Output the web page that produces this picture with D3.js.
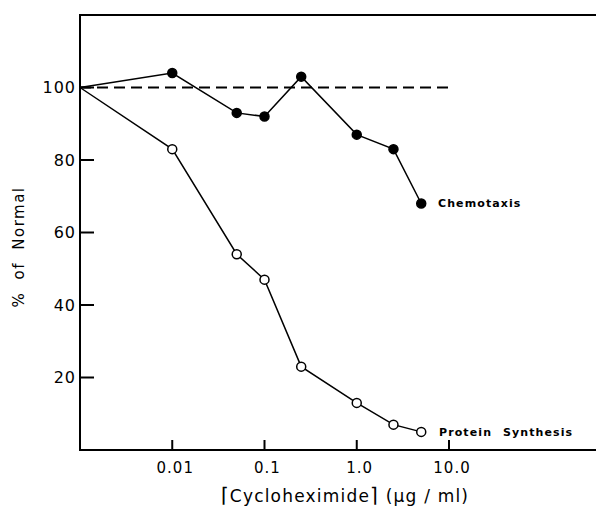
<!DOCTYPE html>
<head>
<meta charset="utf-8">
<title>Cycloheximide</title>
<style>
  body { margin: 0; background: #fff; }
  text { font-family: "DejaVu Sans", sans-serif; fill: #000; }
</style>
</head>
<body>
<svg width="596" height="508"></svg>
<script src="https://d3js.org/d3.v7.min.js"></script>
<script>

// concentrations (ug/ml), first point is the control drawn at the axis
var dose = [0.001, 0.01, 0.05, 0.1, 0.25, 1.0, 2.5, 5.0];
var chemotaxis = [100, 104, 93, 92, 103, 87, 83, 68];
var protein = [100, 83, 54, 47, 23, 13, 7, 5];
var xTicks = [0.01, 0.1, 1.0, 10.0];
var xTickLabels = ["0.01", "0.1", "1.0", "10.0"];
var yTicks = [20, 40, 60, 80, 100];

var svg = d3.select("svg");
// plot edges (don't call it "top", that's window.top)
var pLeft = 80, pBottom = 450, pTop = 15, pRight = 596;

// log scale, 0.001 sits on the y axis
var x = d3.scaleLog().domain([0.001, 10]).range([pLeft, 449]);
var y = d3.scaleLinear().domain([0, 120]).range([pBottom, pTop]);

var ax = svg.append("g").attr("stroke", "#000").attr("stroke-width", 2).attr("fill", "none");
// frame: left, bottom, top
ax.append("line").attr("x1", pLeft).attr("x2", pLeft).attr("y1", pTop).attr("y2", pBottom);
ax.append("line").attr("x1", pLeft - 1).attr("x2", pRight).attr("y1", pBottom).attr("y2", pBottom);
ax.append("line").attr("x1", pLeft - 1).attr("x2", pRight).attr("y1", pTop).attr("y2", pTop);

// inward ticks
ax.selectAll(".yt").data(yTicks).enter().append("line")
  .attr("x1", pLeft).attr("x2", pLeft + 14)
  .attr("y1", d => y(d)).attr("y2", d => y(d));
ax.selectAll(".xt").data(xTicks).enter().append("line")
  .attr("x1", d => x(d)).attr("x2", d => x(d))
  .attr("y1", pBottom).attr("y2", pBottom - 10);

svg.selectAll(".yl").data(yTicks).enter().append("text")
  .attr("x", pLeft - 4).attr("y", d => y(d)).attr("dy", "0.36em")
  .attr("text-anchor", "end").attr("font-size", 16).attr("letter-spacing", 1)
  .text(d => d);

svg.selectAll(".xl").data(xTicks).enter().append("text")
  .attr("x", (d, i) => x(d) + 3).attr("y", 473)
  .attr("text-anchor", "middle").attr("font-size", 15).attr("letter-spacing", 1)
  .text((d, i) => xTickLabels[i]);

// axis titles
svg.append("text")
  .attr("transform", "translate(24,247) rotate(-90)")
  .attr("text-anchor", "middle").attr("font-size", 15).attr("letter-spacing", 1.5)
  .attr("word-spacing", 6)
  .text("% of Normal");

var xt = svg.append("text")
  .attr("x", 345).attr("y", 502)
  .attr("text-anchor", "middle").attr("font-size", 17).attr("letter-spacing", 1.2);
xt.append("tspan").attr("font-size", 20).text("\u2308");
xt.append("tspan").text("Cycloheximide");
xt.append("tspan").attr("font-size", 20).text("\u2309");
xt.append("tspan").text(" (\u03bcg / ml)");

// 100% reference
svg.append("line")
  .attr("x1", x(0.001)).attr("x2", x(11))
  .attr("y1", y(100)).attr("y2", y(100))
  .attr("stroke", "#000").attr("stroke-width", 1.8).attr("stroke-dasharray", "11,6");

var line = d3.line().x((d, i) => x(dose[i])).y(d => y(d));

function series(vals, filled, label, lx, ly) {
  svg.append("path").datum(vals).attr("d", line)
    .attr("fill", "none").attr("stroke", "#000").attr("stroke-width", 1.5);
  svg.selectAll(null).data(vals.slice(1)).enter().append("circle")
    .attr("cx", (d, i) => x(dose[i + 1])).attr("cy", d => y(d))
    .attr("r", 4.5)
    .attr("fill", filled ? "#000" : "#fff").attr("stroke", "#000").attr("stroke-width", 1.5);
  svg.append("text").attr("x", lx).attr("y", ly).attr("dy", "0.35em")
    .attr("font-size", 11).attr("font-weight", "bold").attr("letter-spacing", 1.1)
    .attr("word-spacing", 6)
    .text(label);
}

series(chemotaxis, true, "Chemotaxis", 438, 203);
series(protein, false, "Protein Synthesis", 439, 432);

</script>
</body>
